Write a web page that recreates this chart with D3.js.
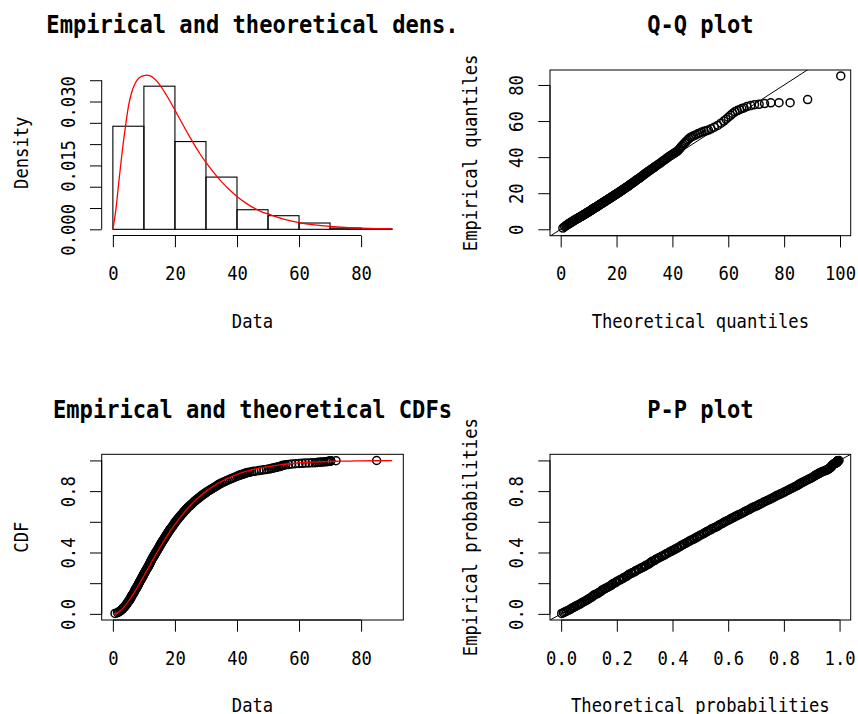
<!DOCTYPE html>
<html><head><meta charset="utf-8">
<script src="https://cdn.jsdelivr.net/npm/d3@7"></script>
<style>
body{margin:0;background:#fff}
svg{display:block}
text{font-family:"DejaVu Sans Mono","Liberation Mono",monospace;fill:#000}
</style>
</head><body>
<svg id="c" width="858" height="714"></svg>
<script>
// ---------------- data ----------------
// histogram
const histBreaks = [0,10,20,30,40,50,60,70,80,90];
const histDensity = [0.0242,0.0336,0.0206,0.01226,0.0046,0.0032,0.00148,0.0003,0.0001];
// fitted (theoretical) density curve
const densX = [0,0.5,1,1.5,2,3,4,5,6,7,8,9,10,11,12,13,14,15,16,17,18,20,22,25,28,30,32,35,38,40,43,45,48,50,55,60,65,70,75,80,85,90];
const densY = [0,0.0022,0.0048,0.0082,0.0117,0.0182,0.0238,0.0288,0.0320,0.0340,0.0352,0.0358,0.0361,0.0362,0.0360,0.0356,0.0349,0.0340,0.0330,0.0318,0.0306,0.0280,0.0253,0.0214,0.0178,0.0157,0.0138,0.0112,0.0090,0.0077,0.0061,0.0052,0.0041,0.0036,0.0024,0.00157,0.00103,0.00067,0.00043,0.00028,0.00018,0.00011];
// fitted distribution: cumulative probability vs quantile
const theoProb  = [0,0.0005,0.001,0.005,0.01,0.02,0.05,0.1,0.15,0.2,0.25,0.3,0.35,0.4,0.45,0.5,0.55,0.6,0.65,0.7,0.75,0.8,0.85,0.9,0.93,0.95,0.97,0.98,0.99,0.993,0.995,0.996,0.997,0.998,0.9987,0.999,0.9995];
const theoQuant = [0,0.37,0.54,1.17,1.66,2.36,3.83,5.62,7.22,8.67,10.07,11.45,12.82,14.23,15.69,17.22,18.84,20.61,22.52,24.67,27.15,30.09,33.78,38.83,43.16,47.20,53.24,57.99,66.01,70.07,73.96,76.5,79.82,84.45,90.0,92.36,100.27];
// observed sample: empirical cumulative probability (%) and the sorted data value there
const empPct = [
 0.25,0.75,1.25,1.75,2.25,2.75,3.25,3.75,4.25,4.75,5.25,5.75,6.25,6.75,7.25,7.75,8.25,8.75,9.25,9.75,
 10.25,10.75,11.25,11.75,12.25,12.75,13.25,13.75,14.25,14.75,15.25,15.75,16.25,16.75,17.25,17.75,18.25,18.75,19.25,19.75,
 20.25,20.75,21.25,21.75,22.25,22.75,23.25,23.75,24.25,24.75,25.25,25.75,26.25,26.75,27.25,27.75,28.25,28.75,29.25,29.75,
 30.25,30.75,31.25,31.75,32.25,32.75,33.25,33.75,34.25,34.75,35.25,35.75,36.25,36.75,37.25,37.75,38.25,38.75,39.25,39.75,
 40.25,40.75,41.25,41.75,42.25,42.75,43.25,43.75,44.25,44.75,45.25,45.75,46.25,46.75,47.25,47.75,48.25,48.75,49.25,49.75,
 50.25,50.75,51.25,51.75,52.25,52.75,53.25,53.75,54.25,54.75,55.25,55.75,56.25,56.75,57.25,57.75,58.25,58.75,59.25,59.75,
 60.25,60.75,61.25,61.75,62.25,62.75,63.25,63.75,64.25,64.75,65.25,65.75,66.25,66.75,67.25,67.75,68.25,68.75,69.25,69.75,
 70.25,70.75,71.25,71.75,72.25,72.75,73.25,73.75,74.25,74.75,75.25,75.75,76.25,76.75,77.25,77.75,78.25,78.75,79.25,79.75,
 80.25,80.75,81.25,81.75,82.25,82.75,83.25,83.75,84.25,84.75,85.25,85.75,86.25,86.75,87.25,87.75,88.25,88.75,89.25,89.75,
 90.125,90.375,90.625,90.875,91.125,91.375,91.625,91.875,92.125,92.375,92.625,92.875,93.125,93.375,93.625,93.875,
 94.125,94.375,94.625,94.875,95.125,95.375,95.625,95.875,96.125,96.375,96.625,96.875,97.125,97.375,97.625,97.875,
 98.05,98.15,98.25,98.35,98.45,98.55,98.65,98.75,98.85,98.95,99.05,99.15,99.25,99.35,99.45,99.55,99.65,99.75,99.85,99.95];
const empValue = [
 0.7,1.5,1.9,2.3,2.6,2.9,3.1,3.3,3.6,3.8,4.0,4.2,4.4,4.6,4.7,4.9,5.1,5.3,5.4,5.6,
 5.7,5.9,6.0,6.1,6.2,6.4,6.6,6.7,6.9,7.0,7.1,7.2,7.4,7.5,7.7,7.8,8.0,8.1,8.2,8.3,
 8.5,8.6,8.7,8.9,9.0,9.2,9.3,9.4,9.6,9.7,9.8,9.9,10.1,10.2,10.4,10.5,10.6,10.8,10.9,11.1,
 11.2,11.4,11.5,11.6,11.8,11.9,12.0,12.1,12.2,12.4,12.5,12.6,12.8,12.9,13.1,13.2,13.4,13.5,13.6,13.8,
 13.9,14.1,14.2,14.4,14.5,14.7,14.8,15.0,15.1,15.2,15.4,15.5,15.7,15.8,16.0,16.1,16.3,16.5,16.6,16.8,
 16.9,17.1,17.2,17.4,17.6,17.7,17.9,18.0,18.2,18.4,18.5,18.7,18.9,19.1,19.3,19.4,19.6,19.8,20.0,20.1,
 20.3,20.5,20.7,20.9,21.1,21.3,21.5,21.7,21.9,22.1,22.4,22.6,22.8,23.0,23.2,23.5,23.7,23.9,24.1,24.4,
 24.7,25.0,25.2,25.5,25.8,26.0,26.3,26.6,26.9,27.2,27.5,27.8,28.1,28.4,28.7,29.1,29.4,29.8,30.1,30.5,
 30.9,31.3,31.7,32.1,32.5,32.9,33.3,33.7,34.1,34.5,35.0,35.5,36.1,36.6,37.2,37.8,38.3,38.9,39.5,40.1,
 40.5,40.9,41.2,41.6,42.0,42.3,42.7,43.0,43.4,44.1,44.7,45.4,46.2,47.1,47.9,48.7,
 49.5,50.2,50.9,51.3,51.8,52.3,52.9,53.4,53.9,54.3,54.6,55.0,55.7,56.6,57.6,58.8,
 60.0,61.0,62.1,63.2,64.2,65.2,65.8,66.3,66.9,67.3,68.0,68.6,69.1,69.3,69.7,70.1,70.2,70.2,71.9,85.0];
// tick values
const ticksData = [0,20,40,60,80];
const ticksDensity = [0,0.005,0.010,0.015,0.020,0.025,0.030,0.035];
const labelsDensity = [0,0.015,0.030];
const ticksQ = [0,20,40,60,80,100];
const ticksQy = [0,20,40,60,80];
const ticksProb = [0,0.2,0.4,0.6,0.8,1.0];
const labelsProbY = [0,0.4,0.8];
const titles = ["Empirical and theoretical dens.","Q-Q plot","Empirical and theoretical CDFs","P-P plot"];

// ---------------- drawing ----------------
const svg = d3.select('#c');
svg.append('rect').attr('width',858).attr('height',714).attr('fill','#fff');

const TICK = 11.7, CH = 10.35, CHT = 13.3;
const FONT = '"DejaVu Sans Mono","Liberation Mono",monospace';

function txt(g, s, x, y, opts={}) {
  const t = g.append('text').attr('x',x).attr('y',y).text(s)
    .attr('text-anchor','middle')
    .style('font-size',(opts.bold?25:20)+'px')
    .style('font-weight',opts.bold?'bold':'normal')
    .attr('textLength', s.length*(opts.bold?CHT:CH))
    .attr('lengthAdjust','spacingAndGlyphs');
  if (opts.rot) t.attr('transform',`rotate(-90,${x},${y})`);
  return t;
}
function makePanel(reg, xdom, ydom) {
  const x = d3.scaleLinear().domain(xdom).range([reg.x0, reg.x1]);
  const y = d3.scaleLinear().domain(ydom).range([reg.y1, reg.y0]);
  return {x,y,reg};
}
function fitText(sel){
  sel.style('font-size','20px').style('font-family',FONT)
    .each(function(){ const s=d3.select(this).text(); if(s) d3.select(this).attr('textLength',s.length*CH).attr('lengthAdjust','spacingAndGlyphs'); });
}
function rAxisBottom(p, ticks, labels, fmt) {
  const g = svg.append('g').attr('transform',`translate(0,${p.reg.y1})`);
  g.call(d3.axisBottom(p.x).tickValues(ticks).tickSize(TICK).tickSizeOuter(0)
    .tickFormat(d => labels.some(l=>Math.abs(l-d)<1e-9) ? fmt(d) : ''));
  g.select('.domain').remove();
  g.selectAll('.tick line').attr('stroke','#000').attr('stroke-width',1);
  fitText(g.selectAll('.tick text').attr('y',44.5).attr('dy',null));
  g.append('line').attr('x1',p.x(ticks[0])).attr('x2',p.x(ticks[ticks.length-1]))
    .attr('y1',0).attr('y2',0).attr('stroke','#000');
}
function rAxisLeft(p, ticks, labels, fmt) {
  const g = svg.append('g').attr('transform',`translate(${p.reg.x0},0)`);
  g.call(d3.axisLeft(p.y).tickValues(ticks).tickSize(TICK).tickSizeOuter(0)
    .tickFormat(d => labels.some(l=>Math.abs(l-d)<1e-9) ? fmt(d) : ''));
  g.select('.domain').remove();
  g.selectAll('.tick line').attr('stroke','#000').attr('stroke-width',1);
  fitText(g.selectAll('.tick text').attr('x',0).attr('y',0).attr('dy',null)
    .attr('text-anchor','middle').attr('transform','translate(-26.7,0) rotate(-90)'));
  g.append('line').attr('y1',p.y(ticks[0])).attr('y2',p.y(ticks[ticks.length-1]))
    .attr('x1',0).attr('x2',0).attr('stroke','#000');
}
function box(p){
  svg.append('rect').attr('x',p.reg.x0).attr('y',p.reg.y0)
    .attr('width',p.reg.x1-p.reg.x0).attr('height',p.reg.y1-p.reg.y0)
    .attr('fill','none').attr('stroke','#000').attr('stroke-width',1);
}
function labels(p, title, xl, yl){
  const cx = (p.reg.x0+p.reg.x1)/2, cy=(p.reg.y0+p.reg.y1)/2;
  txt(svg, title, cx, p.reg.y0-36.8, {bold:true});
  txt(svg, xl, cx, p.reg.y1+92);
  txt(svg, yl, p.reg.x0-73.4, cy, {rot:true});
}
function clip(p, id){
  svg.append('clipPath').attr('id',id).append('rect')
    .attr('x',p.reg.x0).attr('y',p.reg.y0).attr('width',p.reg.x1-p.reg.x0).attr('height',p.reg.y1-p.reg.y0);
  return `url(#${id})`;
}

const obs = empValue.map((v,i)=>({v, p: empPct[i]/100}));
const quantOf = d3.scaleLinear().domain(theoProb).range(theoQuant);
const probOf  = d3.scaleLinear().domain(theoQuant).range(theoProb);
const R = 4.0, SW = 1.5;
function points(p, fx, fy){
  svg.append('g').selectAll('circle').data(obs).join('circle')
    .attr('cx',fx).attr('cy',fy).attr('r',R)
    .attr('fill','none').attr('stroke','#000').attr('stroke-width',SW);
}

// ---- Panel 1: histogram + density ----
const p1 = makePanel({x0:101.7,x1:403.3,y0:70,y1:235.5},[-3.6,93.6],[-0.00145,0.0374]);
svg.append('g').selectAll('rect').data(histDensity).join('rect')
  .attr('x',(d,i)=>p1.x(histBreaks[i]))
  .attr('width',(d,i)=>p1.x(histBreaks[i+1])-p1.x(histBreaks[i]))
  .attr('y',d=>p1.y(d)).attr('height',d=>p1.y(0)-p1.y(d))
  .attr('fill','none').attr('stroke','#000').attr('stroke-width',1.1);
svg.append('path').datum(densX.map((x,i)=>[x,densY[i]]))
  .attr('d',d3.line().x(d=>p1.x(d[0])).y(d=>p1.y(d[1])).curve(d3.curveMonotoneX))
  .attr('fill','none').attr('stroke','#ff0000').attr('stroke-width',1.3);
rAxisBottom(p1, ticksData, ticksData, d3.format('d'));
rAxisLeft(p1, ticksDensity, labelsDensity, d3.format('.3f'));
labels(p1, titles[0], 'Data', 'Density');

// ---- Panel 2: Q-Q plot ----
const p2 = makePanel({x0:550,x1:850.7,y0:70,y1:235.7},[-3.83,103.83],[-3.55,88.3]);
box(p2);
points(p2, d=>p2.x(quantOf(d.p)), d=>p2.y(d.v));
svg.append('line').attr('clip-path',clip(p2,'c2'))
  .attr('x1',p2.x(-10)).attr('y1',p2.y(-10)).attr('x2',p2.x(120)).attr('y2',p2.y(120))
  .attr('stroke','#000').attr('stroke-width',1);
rAxisBottom(p2, ticksQ, ticksQ, d3.format('d'));
rAxisLeft(p2, ticksQy, ticksQy, d3.format('d'));
labels(p2, titles[1], 'Theoretical quantiles', 'Empirical quantiles');

// ---- Panel 3: CDFs ----
const p3 = makePanel({x0:101.7,x1:403.3,y0:454.3,y1:620},[-3.6,93.6],[-0.04,1.04]);
box(p3);
points(p3, d=>p3.x(d.v), d=>p3.y(d.p));
const cdfPts = theoQuant.map((q,i)=>[q,theoProb[i]]).filter(d=>d[0]<=90);
svg.append('path').datum(cdfPts)
  .attr('d',d3.line().x(d=>p3.x(d[0])).y(d=>p3.y(d[1])).curve(d3.curveMonotoneX))
  .attr('fill','none').attr('stroke','#ff0000').attr('stroke-width',1.3);
rAxisBottom(p3, ticksData, ticksData, d3.format('d'));
rAxisLeft(p3, ticksProb, labelsProbY, d3.format('.1f'));
labels(p3, titles[2], 'Data', 'CDF');

// ---- Panel 4: P-P plot ----
const p4 = makePanel({x0:550,x1:850.7,y0:454.3,y1:620},[-0.04,1.04],[-0.04,1.04]);
box(p4);
points(p4, d=>p4.x(probOf(d.v)), d=>p4.y(d.p));
svg.append('line').attr('clip-path',clip(p4,'c4'))
  .attr('x1',p4.x(-0.1)).attr('y1',p4.y(-0.1)).attr('x2',p4.x(1.1)).attr('y2',p4.y(1.1))
  .attr('stroke','#000').attr('stroke-width',1);
rAxisBottom(p4, ticksProb, ticksProb, d3.format('.1f'));
rAxisLeft(p4, ticksProb, labelsProbY, d3.format('.1f'));
labels(p4, titles[3], 'Theoretical probabilities', 'Empirical probabilities');
</script>
</body></html>
